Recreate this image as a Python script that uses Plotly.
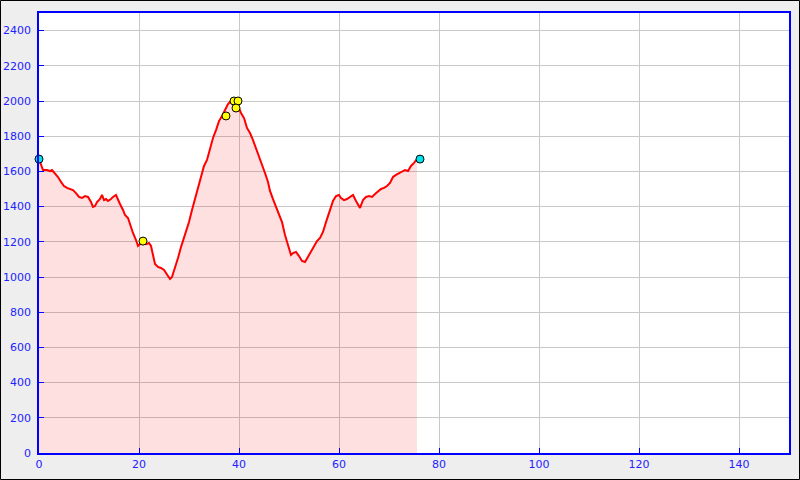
import plotly.graph_objects as go

dist_km = [0, 0.4, 0.8, 1.6, 2.2, 2.6, 3.2, 3.8, 4.4, 5.0, 5.6, 6.2, 6.8, 7.4, 8.0, 8.6, 9.2, 9.8,
           10.4, 10.8, 11.2, 11.6, 12.2, 12.6, 13.0, 13.4, 13.8, 14.4, 14.8, 15.4, 15.8, 16.2, 16.8,
           17.2, 17.8, 18.2, 18.8, 19.4, 19.8, 20.2, 20.8, 21.4, 22.0, 22.4, 22.8, 23.2, 23.8, 24.4,
           25.0, 25.6, 26.2, 26.6, 27.2, 27.8, 28.4, 29.0, 29.4, 30.0, 30.6, 31.2, 31.8, 32.4, 33.0,
           33.6, 34.2, 34.8, 35.4, 36.0, 36.6, 37.2, 37.8, 38.4, 38.8, 39.4, 40.0, 40.4, 41.0, 41.6,
           42.2, 42.8, 43.4, 44.0, 44.6, 45.2, 45.8, 46.2, 46.8, 47.4, 48.0, 48.6, 49.2, 49.8, 50.4,
           50.8, 51.4, 52.0, 52.6, 53.2, 53.8, 54.4, 55.0, 55.6, 56.2, 56.8, 57.4, 57.8, 58.2, 58.8,
           59.4, 60.0, 60.4, 61.0, 61.6, 62.2, 62.8, 63.4, 63.8, 64.2, 64.8, 65.4, 66.0, 66.6, 67.2,
           67.8, 68.4, 69.0, 69.6, 70.2, 70.8, 71.4, 72.0, 72.6, 73.2, 73.8, 74.4, 75.0, 75.6, 76.2]
elev_m = [1670, 1636, 1608, 1608, 1602, 1608, 1590, 1568, 1540, 1517, 1506, 1500, 1494, 1477,
          1455, 1449, 1460, 1455, 1426, 1398, 1403, 1426, 1443, 1466, 1437, 1443, 1432, 1443, 1455,
          1466, 1437, 1415, 1381, 1352, 1335, 1295, 1250, 1210, 1176, 1187, 1199, 1187, 1193, 1176,
          1125, 1074, 1057, 1051, 1040, 1011, 989, 1000, 1051, 1108, 1170, 1222, 1256, 1312, 1381,
          1443, 1494, 1562, 1631, 1665, 1733, 1790, 1835, 1886, 1915, 1949, 1983, 2000, 1989, 1989,
          1960, 1932, 1903, 1847, 1818, 1778, 1733, 1676, 1642, 1591, 1540, 1489, 1443, 1398, 1364,
          1312, 1239, 1187, 1125, 1136, 1142, 1119, 1091, 1085, 1114, 1142, 1170, 1204, 1222, 1256,
          1312, 1347, 1392, 1432, 1460, 1466, 1449, 1437, 1443, 1455, 1466, 1432, 1409, 1392, 1437,
          1455, 1460, 1455, 1472, 1489, 1500, 1506, 1517, 1534, 1568, 1580, 1591, 1602, 1608, 1602,
          1631, 1648, 1670]

end_km = [0, 76.2]
end_elev = [1670, 1670]
wp_km = [20.8, 37.4, 39.0, 39.8, 39.4]
wp_elev = [1204, 1915, 2000, 2000, 1960]

x_ticks = [0, 20, 40, 60, 80, 100, 120, 140]
y_ticks = [0, 200, 400, 600, 800, 1000, 1200, 1400, 1600, 1800, 2000, 2200, 2400]

fig = go.Figure()
fig.add_trace(go.Scatter(x=dist_km, y=elev_m, mode="lines", fill="tozeroy",
                         fillcolor="rgba(255,0,0,0.12)",
                         line=dict(color="#ff0000", width=2), hoverinfo="skip"))
fig.add_trace(go.Scatter(x=wp_km, y=wp_elev, mode="markers",
                         marker=dict(color="#ffff00", size=8, line=dict(color="black", width=1))))
fig.add_trace(go.Scatter(x=end_km, y=end_elev, mode="markers",
                         marker=dict(color="#00e5ee", size=8, line=dict(color="black", width=1)),
                         cliponaxis=False))

axis_common = dict(showline=True, linecolor="#0000ff", linewidth=1.5, mirror=True,
                   ticks="inside", ticklen=5, tickcolor="#0000ff", tickwidth=1,
                   showgrid=True, gridcolor="#c8c8c8", gridwidth=1, zeroline=False,
                   automargin=False,
                   tickfont=dict(family="DejaVu Sans", size=11, color="#2222ff"))

fig.update_xaxes(range=[0, 150], tickvals=x_ticks, **axis_common)
fig.update_yaxes(range=[0, 2500], tickvals=y_ticks, ticklabelstandoff=4, **axis_common)

W, H = 800, 480
l, r, t, b = 39, 11, 13, 27
pw, ph = W - l - r, H - t - b
fig.add_shape(type="rect", xref="paper", yref="paper",
              x0=-(l - 0.5) / pw, x1=1 + (r - 0.5) / pw,
              y0=-(b - 0.5) / ph, y1=1 + (t - 0.5) / ph,
              line=dict(color="black", width=1), layer="above")

fig.update_layout(width=W, height=H, margin=dict(l=l, r=r, t=t, b=b, autoexpand=False),
                  paper_bgcolor="#eeeeee", plot_bgcolor="white", showlegend=False)

fig.write_html("out.html", config={"displayModeBar": False},
               post_script="document.body.style.margin='0';document.body.style.padding='0';")
